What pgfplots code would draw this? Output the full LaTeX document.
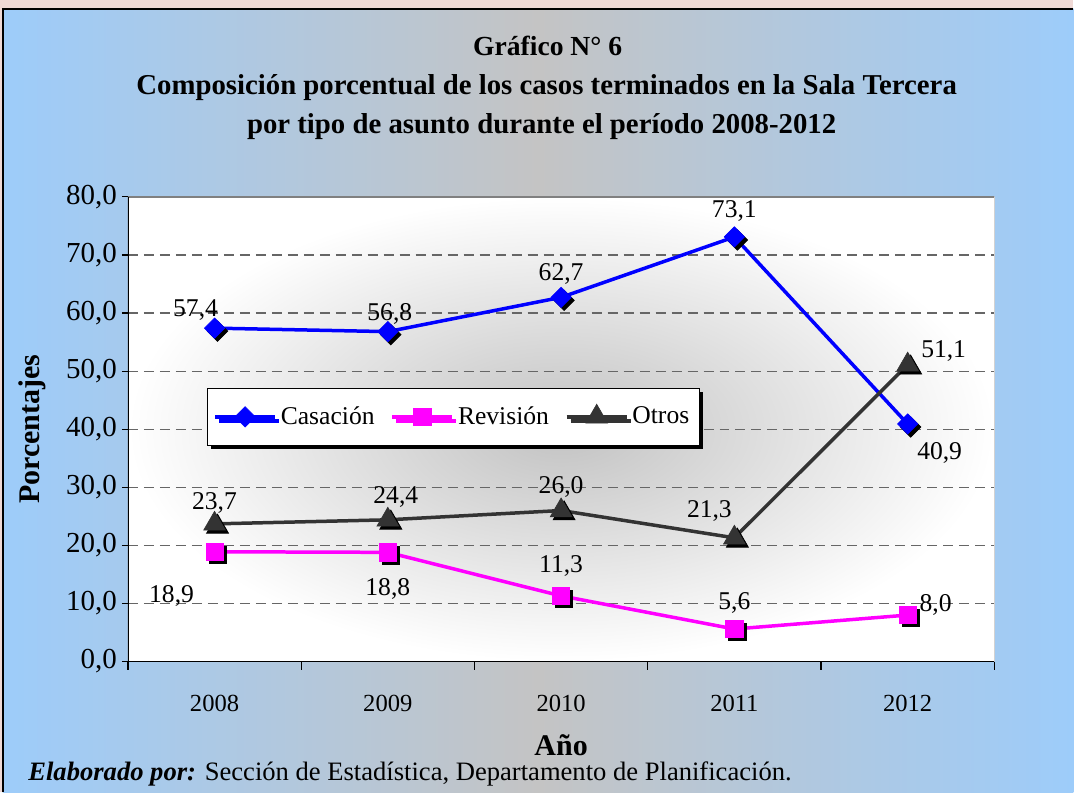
\documentclass[border=0pt]{standalone}
\usepackage{fontspec}
\setmainfont{Liberation Serif}
\usepackage{pgfplots}
\usepackage{pgfplotstable}
\pgfplotsset{compat=1.18}
\usetikzlibrary{shadows}

\definecolor{panelblue}{HTML}{9DCCFA}
\definecolor{panelgray}{HTML}{C4C4C4}
\definecolor{pinkbg}{HTML}{EFD9D6}
\definecolor{casblue}{HTML}{0000FF}
\definecolor{revmag}{HTML}{FF00FF}
\definecolor{otros}{HTML}{333333}
\definecolor{gridgray}{HTML}{666666}

% x = year index (0 = 2008), dx/dy = label offset in pt
\pgfplotstableread{
x y dx dy
0 57.4 -9.5 9
1 56.8 1 9
2 62.7 0 11.5
3 73.1 0 13
4 40.9 16 -14.5
}\cas
\pgfplotstableread{
x y dx dy
0 18.9 -21.5 -22
1 18.8 0 -18.5
2 11.3 0 15
3 5.6 0 13
4 8.0 14 5
}\rev
\pgfplotstableread{
x y dx dy
0 23.7 0 10.5
1 24.4 4 11.5
2 26.0 0 12
3 21.3 -12.5 13.5
4 51.1 18 7
}\otr

\def\dx{0}\def\dy{0}
\pgfplotsset{
  lbl/.style={
    nodes near coords={\pgfmathprintnumber[fixed,fixed zerofill,precision=1,use comma]{\pgfplotspointmeta}},
    point meta=y,
    visualization depends on={\thisrow{dx} \as \dx},
    visualization depends on={\thisrow{dy} \as \dy},
    every node near coord/.style={anchor=center, text=black, inner sep=0pt,
      xshift=\dx pt, yshift=\dy pt, font=\fontsize{12.8}{14}\selectfont},
  },
  shadowmk/.style={draw=none, forget plot, mark options={xshift=1.5pt, yshift=-1.5pt, fill=black, draw=black, solid, #1}},
}

\begin{document}
\begin{tikzpicture}
\begin{scope}[x=0.5pt,y=-0.5pt]
  \fill[pinkbg] (0,0) rectangle (1074,793);
  \shade[left color=panelblue, right color=panelblue, middle color=panelgray] (3,9) rectangle (1074,793);
  \draw[black, line width=0.75pt] (3,793) -- (3,9) -- (1074,9);
  \node[font=\bfseries\fontsize{13.8}{16}\selectfont, anchor=base] at (548,56) {Gráfico N° 6};
  \node[font=\bfseries\fontsize{14.4}{16}\selectfont, anchor=base] at (547,95) {Composición porcentual de los casos terminados en la Sala Tercera};
  \node[font=\bfseries\fontsize{14.4}{16}\selectfont, anchor=base] at (542,134) {por tipo de asunto durante el período 2008-2012};
  \node[anchor=base west, inner sep=0pt, font=\fontsize{13.3}{15}\selectfont] at (28,781)
    {\textbf{\textit{Elaborado por:}} Sección de Estadística, Departamento de Planificación.};
\end{scope}

\begin{axis}[
  at={(64pt,-331pt)}, anchor=south west,
  scale only axis, width=433.5pt, height=232.5pt,
  xmin=-0.5, xmax=4.5, ymin=0, ymax=80,
  xtick={0,1,2,3,4}, xticklabels={2008,2009,2010,2011,2012},
  minor xtick={-0.5,0.5,1.5,2.5,3.5,4.5},
  major x tick style={draw=none},
  ytick={0,10,...,80},
  tick pos=left,
  tick align=outside, major tick length=3pt, minor tick length=4pt,
  tick style={black, line width=0.6pt},
  /pgf/number format/assume math mode=true,
  yticklabel={\pgfmathprintnumber[fixed,fixed zerofill,precision=1,use comma]{\tick}},
  yticklabel style={font=\fontsize{14.5}{16}\selectfont, xshift=1pt},
  xticklabel style={font=\fontsize{12.3}{14}\selectfont, yshift=-10.5pt},
  ymajorgrids, grid style={gridgray, dash pattern=on 5pt off 3pt, line width=0.6pt},
  axis line style={draw=none},
  axis background/.style={shade, inner color=black!24, outer color=white},
  xlabel={Año}, ylabel={Porcentajes},
  every axis x label/.style={at={(rel axis cs:0.5,0)}, yshift=-42pt, anchor=center, font=\bfseries\fontsize{15}{17}\selectfont},
  every axis y label/.style={at={(rel axis cs:0,0.5)}, xshift=-48pt, rotate=90, anchor=center, font=\bfseries\fontsize{15}{17}\selectfont},
  legend columns=3,
  legend style={at={(0.091,0.589)}, anchor=north west, draw=black, fill=white, line width=0.6pt,
    font=\fontsize{12.8}{15}\selectfont, inner ysep=7pt, inner xsep=3pt,
    drop shadow={shadow xshift=2pt, shadow yshift=-2pt, fill=black, opacity=1},
    /tikz/every even column/.append style={column sep=6pt}},
  legend image code/.code={\draw[mark repeat=2,mark phase=2] plot coordinates {(0pt,0pt)(15pt,0pt)(30pt,0pt)};},
]
\addplot[shadowmk={rotate=45}, mark=square*, mark size=3.6pt] table[x=x,y=y]{\cas};
\addplot[casblue, line width=1.75pt, mark=square*, mark size=3.6pt,
  mark options={rotate=45, solid, line width=0.3pt, fill=casblue}, lbl] table[x=x,y=y]{\cas};
\addlegendentry{Casación}
\addplot[shadowmk={}, mark=square*, mark size=4.3pt] table[x=x,y=y]{\rev};
\addplot[revmag, line width=1.75pt, mark=square*, mark size=4.3pt,
  mark options={solid, line width=0.3pt, fill=revmag}, lbl] table[x=x,y=y]{\rev};
\addlegendentry{Revisión}
\addplot[shadowmk={}, mark=triangle*, mark size=6.3pt] table[x=x,y=y]{\otr};
\addplot[otros, line width=1.75pt, mark=triangle*, mark size=6.3pt,
  mark options={solid, line width=0.3pt, fill=otros}, lbl] table[x=x,y=y]{\otr};
\addlegendentry{Otros}
\draw[gray, line width=0.8pt] (rel axis cs:0,1) -- (rel axis cs:1,1) -- (rel axis cs:1,0);
\draw[black, line width=0.8pt] (rel axis cs:0,1) -- (rel axis cs:0,0) -- (rel axis cs:1,0);
\end{axis}
\end{tikzpicture}
\end{document}
